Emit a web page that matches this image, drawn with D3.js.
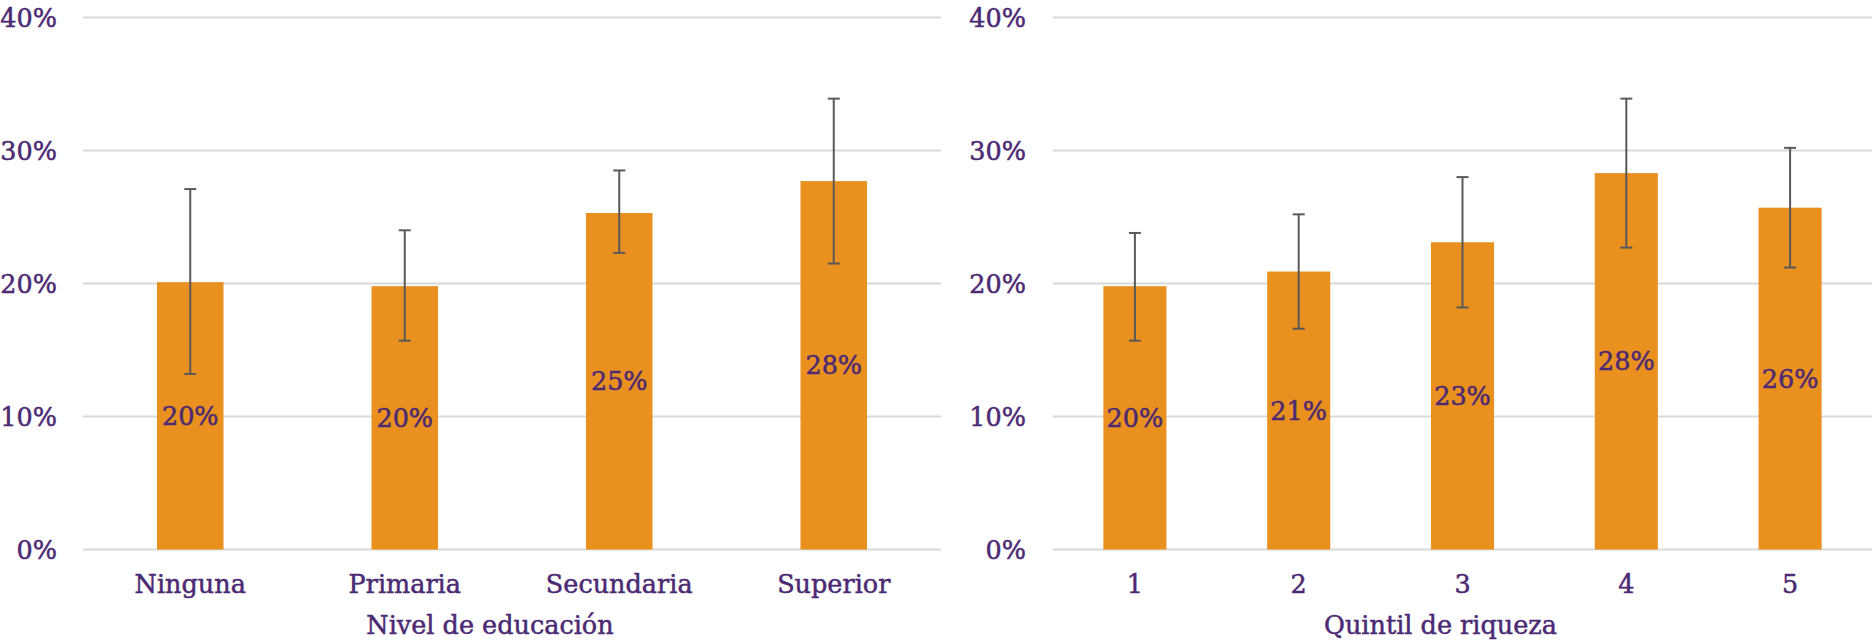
<!DOCTYPE html>
<html>
<head>
<meta charset="utf-8">
<script src="https://cdn.jsdelivr.net/npm/d3@7"></script>
<style>
  body { margin: 0; background: #fff; }
  text { font-family: "DejaVu Serif", serif; fill: #4b2a73; stroke: #4b2a73; stroke-width: 0.5px; }
</style>
</head>
<body>
<div id="chart"></div>
<script>
// education panel
var eduCategories = ["Ninguna", "Primaria", "Secundaria", "Superior"];
var eduValues = [0.201, 0.198, 0.253, 0.277];
var eduLow = [0.132, 0.157, 0.223, 0.215];
var eduHigh = [0.271, 0.240, 0.285, 0.339];

// wealth quintile panel
var quintCategories = ["1", "2", "3", "4", "5"];
var quintValues = [0.198, 0.209, 0.231, 0.283, 0.257];
var quintLow = [0.157, 0.166, 0.182, 0.227, 0.212];
var quintHigh = [0.238, 0.252, 0.280, 0.339, 0.302];

var yTicks = [0, 0.1, 0.2, 0.3, 0.4];

var width = 1874,
  height = 642,
  orange = "#e9901f",
  grid = "#d9d9d9",
  errColor = "#595959",
  fontSize = "25.5px";

var svg = d3.select("#chart")
  .append("svg")
  .attr("width", width)
  .attr("height", height);

var y = d3.scaleLinear()
  .domain([0, 0.4])
  .range([549.5, 17.5]);

function drawPanel(opts) {
  var g = svg.append("g");

  var x = d3.scaleBand()
    .domain(opts.categories)
    .range([opts.x0, opts.x1])
    .paddingInner(opts.pad)
    .paddingOuter(opts.pad / 2);

  // gridlines
  g.selectAll("line.grid")
    .data(yTicks)
    .enter()
    .append("line")
    .attr("class", "grid")
    .attr("x1", opts.x0)
    .attr("x2", opts.x1)
    .attr("y1", function(d) { return y(d); })
    .attr("y2", function(d) { return y(d); })
    .style("stroke", grid)
    .style("stroke-width", 2);

  // y tick labels
  g.selectAll("text.ytick")
    .data(yTicks)
    .enter()
    .append("text")
    .attr("class", "ytick")
    .attr("x", opts.labelX)
    .attr("y", function(d) { return y(d); })
    .attr("dy", "0.36em")
    .attr("text-anchor", "end")
    .style("font-size", fontSize)
    .text(function(d) { return d3.format(".0%")(d); });

  // bars
  g.selectAll("rect.bar")
    .data(opts.values)
    .enter()
    .append("rect")
    .attr("class", "bar")
    .attr("x", function(d, i) { return x(opts.categories[i]); })
    .attr("width", x.bandwidth())
    .attr("y", function(d) { return y(d); })
    .attr("height", function(d) { return y(0) - y(d); })
    .style("fill", orange);

  // error bars
  var cx = function(i) { return x(opts.categories[i]) + x.bandwidth() / 2; };
  var err = g.selectAll("g.err")
    .data(opts.values)
    .enter()
    .append("g")
    .attr("class", "err")
    .style("stroke", errColor)
    .style("stroke-width", 2);

  err.append("line")
    .attr("x1", function(d, i) { return cx(i); })
    .attr("x2", function(d, i) { return cx(i); })
    .attr("y1", function(d, i) { return y(opts.high[i]); })
    .attr("y2", function(d, i) { return y(opts.low[i]); });

  err.append("line")
    .attr("x1", function(d, i) { return cx(i) - 6; })
    .attr("x2", function(d, i) { return cx(i) + 6; })
    .attr("y1", function(d, i) { return y(opts.high[i]); })
    .attr("y2", function(d, i) { return y(opts.high[i]); });

  err.append("line")
    .attr("x1", function(d, i) { return cx(i) - 6; })
    .attr("x2", function(d, i) { return cx(i) + 6; })
    .attr("y1", function(d, i) { return y(opts.low[i]); })
    .attr("y2", function(d, i) { return y(opts.low[i]); });

  // data labels, centred in bar
  g.selectAll("text.value")
    .data(opts.values)
    .enter()
    .append("text")
    .attr("class", "value")
    .attr("x", function(d, i) { return cx(i); })
    .attr("y", function(d) { return (y(d) + y(0)) / 2; })
    .attr("dy", "0.36em")
    .attr("text-anchor", "middle")
    .style("font-size", fontSize)
    .text(function(d) { return d3.format(".0%")(d); });

  // x tick labels
  g.selectAll("text.xtick")
    .data(opts.categories)
    .enter()
    .append("text")
    .attr("class", "xtick")
    .attr("x", function(d) { return x(d) + x.bandwidth() / 2; })
    .attr("y", 593)
    .attr("text-anchor", "middle")
    .style("font-size", fontSize)
    .text(function(d) { return d; });

  // axis title
  g.append("text")
    .attr("x", (opts.x0 + opts.x1) / 2 - 22)
    .attr("y", 634)
    .attr("text-anchor", "middle")
    .style("font-size", fontSize)
    .text(opts.title);
}

drawPanel({
  categories: eduCategories, values: eduValues, low: eduLow, high: eduHigh,
  x0: 83, x1: 941, pad: 0.69, labelX: 57, title: "Nivel de educación"
});

drawPanel({
  categories: quintCategories, values: quintValues, low: quintLow, high: quintHigh,
  x0: 1053, x1: 1872, pad: 0.615, labelX: 1026, title: "Quintil de riqueza"
});
</script>
</body>
</html>
